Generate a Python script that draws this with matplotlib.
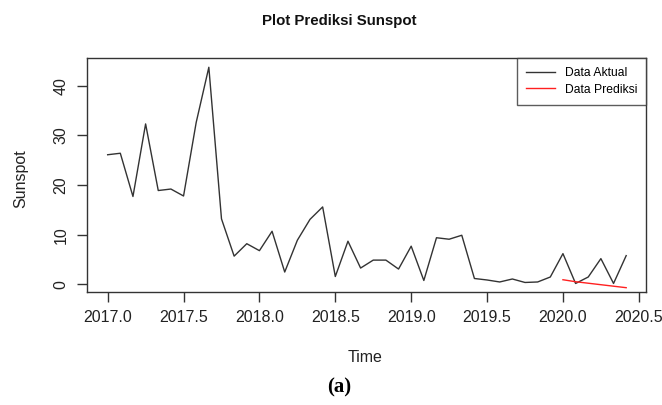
import matplotlib
matplotlib.use("Agg")
import matplotlib.pyplot as plt
import numpy as np

# Monthly sunspot data, Jan 2017 - Jun 2020
start_year = 2017.0
actual = [26.1, 26.4, 17.7, 32.3, 18.9, 19.2, 17.8, 32.6, 43.7, 13.2, 5.7, 8.2,
          6.8, 10.7, 2.5, 8.9, 13.1, 15.6, 1.6, 8.7, 3.3, 4.9, 4.9, 3.1,
          7.7, 0.8, 9.4, 9.1, 9.9, 1.2, 0.9, 0.5, 1.1, 0.4, 0.5, 1.5,
          6.2, 0.2, 1.5, 5.2, 0.2, 5.8]
pred_start = 2020.0
predicted = [0.95, 0.55, 0.25, -0.05, -0.35, -0.65]

x_ticks = [2017.0, 2017.5, 2018.0, 2018.5, 2019.0, 2019.5, 2020.0, 2020.5]
y_ticks = [0, 10, 20, 30, 40]

t_act = start_year + np.arange(len(actual)) / 12.0
t_pred = pred_start + np.arange(len(predicted)) / 12.0

plt.rcParams['font.family'] = ['Liberation Sans', 'DejaVu Sans']

fig = plt.figure(figsize=(6.62, 4.05), dpi=100)
ax = fig.add_axes([0.131, 0.278, 0.845, 0.578])

ax.plot(t_act, actual, color='#333333', lw=1.0, label='Data Aktual')
ax.plot(t_pred, predicted, color='#ff2020', lw=1.0, label='Data Prediksi')

ax.set_xlim(2016.862, 2020.548)
ax.set_ylim(-1.6, 45.5)
ax.set_xticks(x_ticks)
ax.set_xticklabels([f"{v:.1f}" for v in x_ticks])
ax.set_yticks(y_ticks)
ax.set_yticklabels([str(v) for v in y_ticks], rotation=90, va='center')

for s in ax.spines.values():
    s.set_color('#333333')
    s.set_linewidth(1.0)
ax.tick_params(direction='out', length=7, width=1, colors='#333333',
               labelcolor='#222222', labelsize=11.5, pad=6)

fig.text(0.552, 0.118, 'Time', ha='center', va='center', fontsize=11.5, color='#222222')
fig.text(0.031, 0.558, 'Sunspot', ha='center', va='center', rotation=90,
         fontsize=11.5, color='#222222')
fig.text(0.512, 0.948, 'Plot Prediksi Sunspot', ha='center', va='center',
         fontsize=10.8, fontweight='bold', color='#111111')
fig.text(0.512, 0.043, '(a)', ha='center', va='center', fontsize=15,
         fontweight='bold', family=['Liberation Serif', 'DejaVu Serif'])

leg = ax.legend(loc='upper right', fontsize=8.7, frameon=True, fancybox=False,
                borderaxespad=0, handlelength=2.4, borderpad=0.75,
                labelspacing=0.35, handletextpad=0.8)
leg.get_frame().set_edgecolor('#333333')
leg.get_frame().set_linewidth(1.0)

fig.savefig('out.png', dpi=100)
